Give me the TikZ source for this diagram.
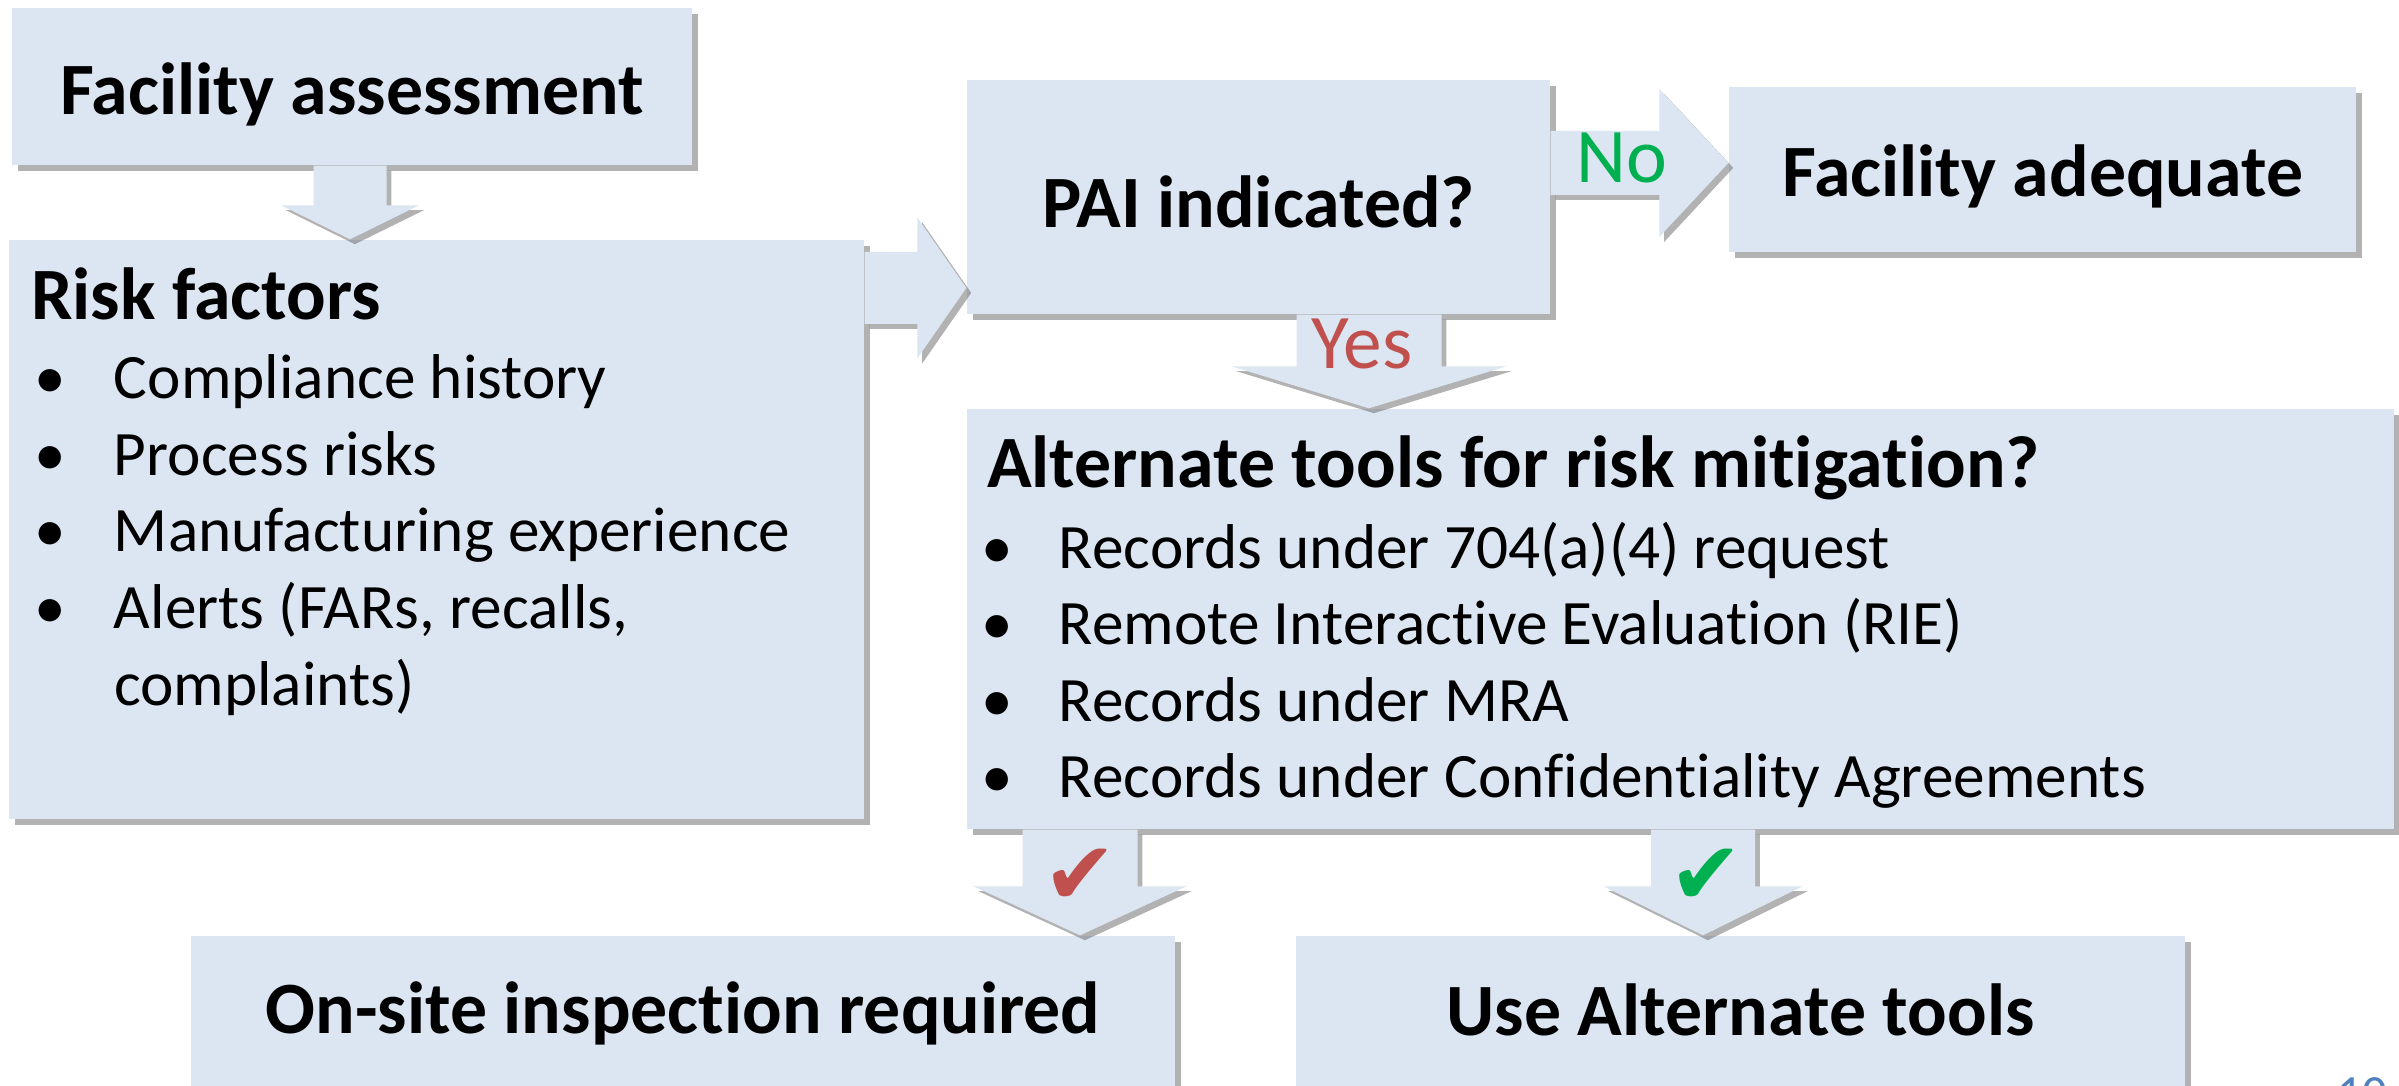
\documentclass[tikz,border=0pt]{standalone}
\usepackage{fontspec}
\setmainfont{Carlito}[RawFeature={-liga;-clig;-calt;-dlig}]
\newfontfamily\symfont{DejaVu Sans}
\usetikzlibrary{calc, shadows}
\definecolor{boxfill}{HTML}{DCE6F2}
\definecolor{okgreen}{HTML}{00B050}
\definecolor{nored}{HTML}{C0504D}
\definecolor{pgblue}{HTML}{4F81BD}

\newcommand{\titlefont}{\fontsize{21}{25}\selectfont\bfseries}
\newcommand{\listfont}{\fontsize{18}{21.8}\selectfont}
\newcommand{\handfont}{\fontsize{22}{26}\selectfont}

% block arrow pointing down: from, to, x, shaft width, head width, head length
\newcommand{\blockdown}[6]{%
  \path[blockarrow] let \p1=(#1.south), \p2=(#2.north) in
    ({#3-#4/2},\y1) -- ({#3+#4/2},\y1) -- ({#3+#4/2},{\y2+#6}) -- ({#3+#5/2},{\y2+#6})
    -- (#3,\y2) -- ({#3-#5/2},{\y2+#6}) -- ({#3-#4/2},{\y2+#6}) -- cycle;}
% block arrow pointing right: from, to, y, shaft width, head width, head length
\newcommand{\blockright}[6]{%
  \path[blockarrow] let \p1=(#1.east), \p2=(#2.west) in
    (\x1,{#3+#4/2}) -- (\x1,{#3-#4/2}) -- ({\x2-#6},{#3-#4/2}) -- ({\x2-#6},{#3-#5/2})
    -- (\x2,#3) -- ({\x2-#6},{#3+#5/2}) -- ({\x2-#6},{#3+#4/2}) -- cycle;}

\begin{document}
\begin{tikzpicture}[
  box/.style={fill=boxfill, inner sep=0pt, font=\titlefont,
    drop shadow={shadow xshift=1.6pt, shadow yshift=-1.6pt, fill=black!60, opacity=0.5}},
  blockarrow/.style={fill=boxfill,
    drop shadow={shadow xshift=1.4pt, shadow yshift=-1.4pt, fill=black!60, opacity=0.5}},
  boxtitle/.style={font=\titlefont, inner sep=0pt, anchor=west},
  listtext/.style={font=\listfont, inner sep=0pt, anchor=north west, align=left},
  hand/.style={font=\handfont, inner sep=0pt},
  tick/.style={font=\symfont\fontsize{25}{28}\selectfont, inner sep=0pt},
]

% Background
\fill[white] (0,0) rectangle (23.99,10.85);
\useasboundingbox (0,0) rectangle (23.99,10.85);

% Boxes
\node[box, minimum width=6.80cm, minimum height=1.57cm] (fa) at (3.52,9.985) {};
\node[box, minimum width=8.55cm, minimum height=5.79cm] (rf) at (4.365,5.555) {};
\node[box, minimum width=5.83cm, minimum height=2.34cm] (pai) at (12.585,8.88) {};
\node[box, minimum width=6.27cm, minimum height=1.65cm] (adq) at (20.425,9.155) {};
\node[box, minimum width=14.27cm, minimum height=4.20cm] (alt) at (16.805,4.66) {};
\node[box, minimum width=9.84cm, minimum height=1.54cm] (onsite) at (6.83,0.72) {};
\node[box, minimum width=8.89cm, minimum height=1.54cm] (usealt) at (17.405,0.72) {};

% Box labels
\node[font=\titlefont, inner sep=0pt] (fatext) at ($(fa.center)+(0,-0.08)$) {Facility assessment};
\node[font=\titlefont, inner sep=0pt] (paitext) at ($(pai.center)+(0,-0.05)$) {PAI indicated?};
\node[font=\titlefont, inner sep=0pt] (adqtext) at ($(adq.center)+(0,-0.07)$) {Facility adequate};
\node[font=\titlefont, inner sep=0pt] (onsitetext) at ($(onsite.center)+(0,0)$) {On-site inspection required};
\node[font=\titlefont, inner sep=0pt] (usealttext) at ($(usealt.center)+(0,0.03)$) {Use Alternate tools};

% Risk factors text
\node[boxtitle] (rftitle) at ($(rf.north west)+(0.22,-0.55)$) {Risk factors};
\node[listtext] (rflist) at ($(rf.north west)+(0.25,-1.05)$) {%
  \begin{tabular}{@{}p{0.80cm}@{}l@{}}
  \textbullet & Compliance history\\
  \textbullet & Process risks\\
  \textbullet & Manufacturing experience\\
  \textbullet & Alerts (FARs, recalls,\\
              & complaints)
  \end{tabular}};

% Alternate tools text
\node[boxtitle] (alttitle) at ($(alt.north west)+(0.20,-0.60)$) {Alternate tools for risk mitigation?};
\node[listtext] (altlist) at ($(alt.north west)+(0.14,-1.055)$) {%
  \begin{tabular}{@{}p{0.78cm}@{}l@{}}
  \textbullet & Records under 704(a)(4) request\\
  \textbullet & Remote Interactive Evaluation (RIE)\\
  \textbullet & Records under MRA\\
  \textbullet & Records under Confidentiality Agreements
  \end{tabular}};

% Block arrows
\blockdown{fa}{rf}{3.50cm}{0.73cm}{1.38cm}{0.34cm}
\blockright{rf}{pai}{7.97cm}{0.72cm}{1.41cm}{0.49cm}
\blockright{pai}{adq}{9.22cm}{0.64cm}{1.48cm}{0.69cm}
\blockdown{pai}{alt}{13.69cm}{1.45cm}{2.75cm}{0.42cm}
\blockdown{alt}{onsite}{10.80cm}{1.15cm}{2.13cm}{0.49cm}
\blockdown{alt}{usealt}{17.03cm}{1.04cm}{1.99cm}{0.49cm}

% Arrow labels
\node[hand, text=okgreen] (nolbl) at (16.22,9.27) {No};
\node[hand, text=nored] (yeslbl) at (13.62,7.41) {Yes};
\node[tick, text=nored] (tickno) at (10.80,2.08) {✔};
\node[tick, text=okgreen] (tickok) at (17.06,2.08) {✔};

% Page number
\node[font=\fontsize{14}{16}\selectfont, text=pgblue, inner sep=0pt, anchor=north] (pgnum) at (23.62,0.08) {10};

\end{tikzpicture}
\end{document}
